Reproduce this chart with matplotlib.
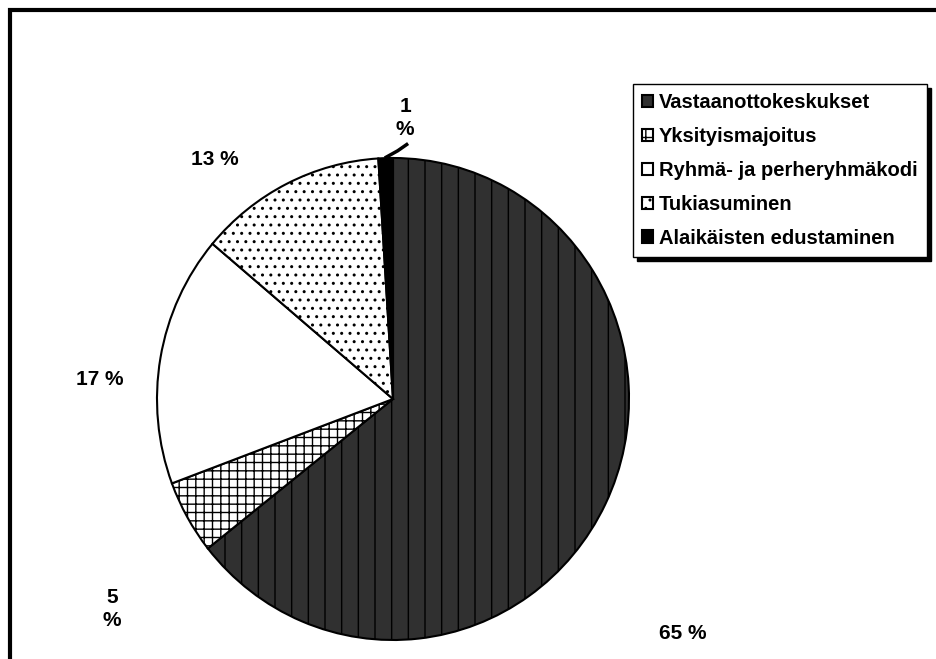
import matplotlib
matplotlib.use("Agg")
import matplotlib.pyplot as plt
from matplotlib.patches import Rectangle

categories = ["Vastaanottokeskukset", "Yksityismajoitus", "Ryhmä- ja perheryhmäkodi",
              "Tukiasuminen", "Alaikäisten edustaminen"]
values = [65, 5, 17, 13, 1]
pct_labels = ["65 %", "5\n%", "17 %", "13 %", "1\n%"]

W, H = 937, 659
fig = plt.figure(figsize=(W / 100, H / 100), dpi=100)
fig.patch.set_facecolor("white")

# outer frame (only top and left visible)
fig.patches.append(Rectangle((10 / W, -0.2), 1.5, 0.2 + (H - 10) / H,
                             transform=fig.transFigure, fill=False,
                             lw=3.0, edgecolor="black"))

cx, cy, rx, ry = 393, 399, 236, 241
ax = fig.add_axes([(cx - rx) / W, (H - cy - ry) / H, 2 * rx / W, 2 * ry / H])

faces = ["#303030", "white", "white", "white", "black"]
hatches = ["|", "++", "", "..", ""]

wedges, _ = ax.pie(values, startangle=90, counterclock=False,
                   colors=faces, wedgeprops=dict(edgecolor="black", linewidth=1.5))
for w, h in zip(wedges, hatches):
    w.set_hatch(h)

ax.set_aspect("auto")
ax.set_xlim(-1, 1)
ax.set_ylim(-1, 1)
ax.axis("off")

label_font = dict(fontsize=15, fontweight="bold", family="Liberation Sans",
                  ha="center", va="center", linespacing=1.3)
label_pos = [(1.229, -0.971), (-1.19, -0.871), (-1.242, 0.079), (-0.754, 0.992), (0.051, 1.166)]
for txt, (x, y) in zip(pct_labels, label_pos):
    ax.text(x, y, txt, clip_on=False, **label_font)

# leader line for the 1 % slice
ax.plot([0.064, 0.02, -0.035], [1.06, 1.03, 1.0], color="black", lw=2.5,
        clip_on=False, solid_capstyle="butt")

leg = fig.legend(wedges, categories, loc="upper left",
                 bbox_to_anchor=(633 / W, 1 - 84 / H),
                 prop=dict(family="Liberation Sans", weight="bold", size=14.5),
                 frameon=True, fancybox=False, edgecolor="black",
                 handlelength=0.55, handleheight=0.55, handletextpad=0.3,
                 labelspacing=0.74, borderpad=0.45, borderaxespad=0,
                 shadow=dict(color="black", alpha=1, ox=3, oy=-3))
leg.get_frame().set_linewidth(1.0)

fig.savefig("out.png", dpi=100, facecolor="white")
